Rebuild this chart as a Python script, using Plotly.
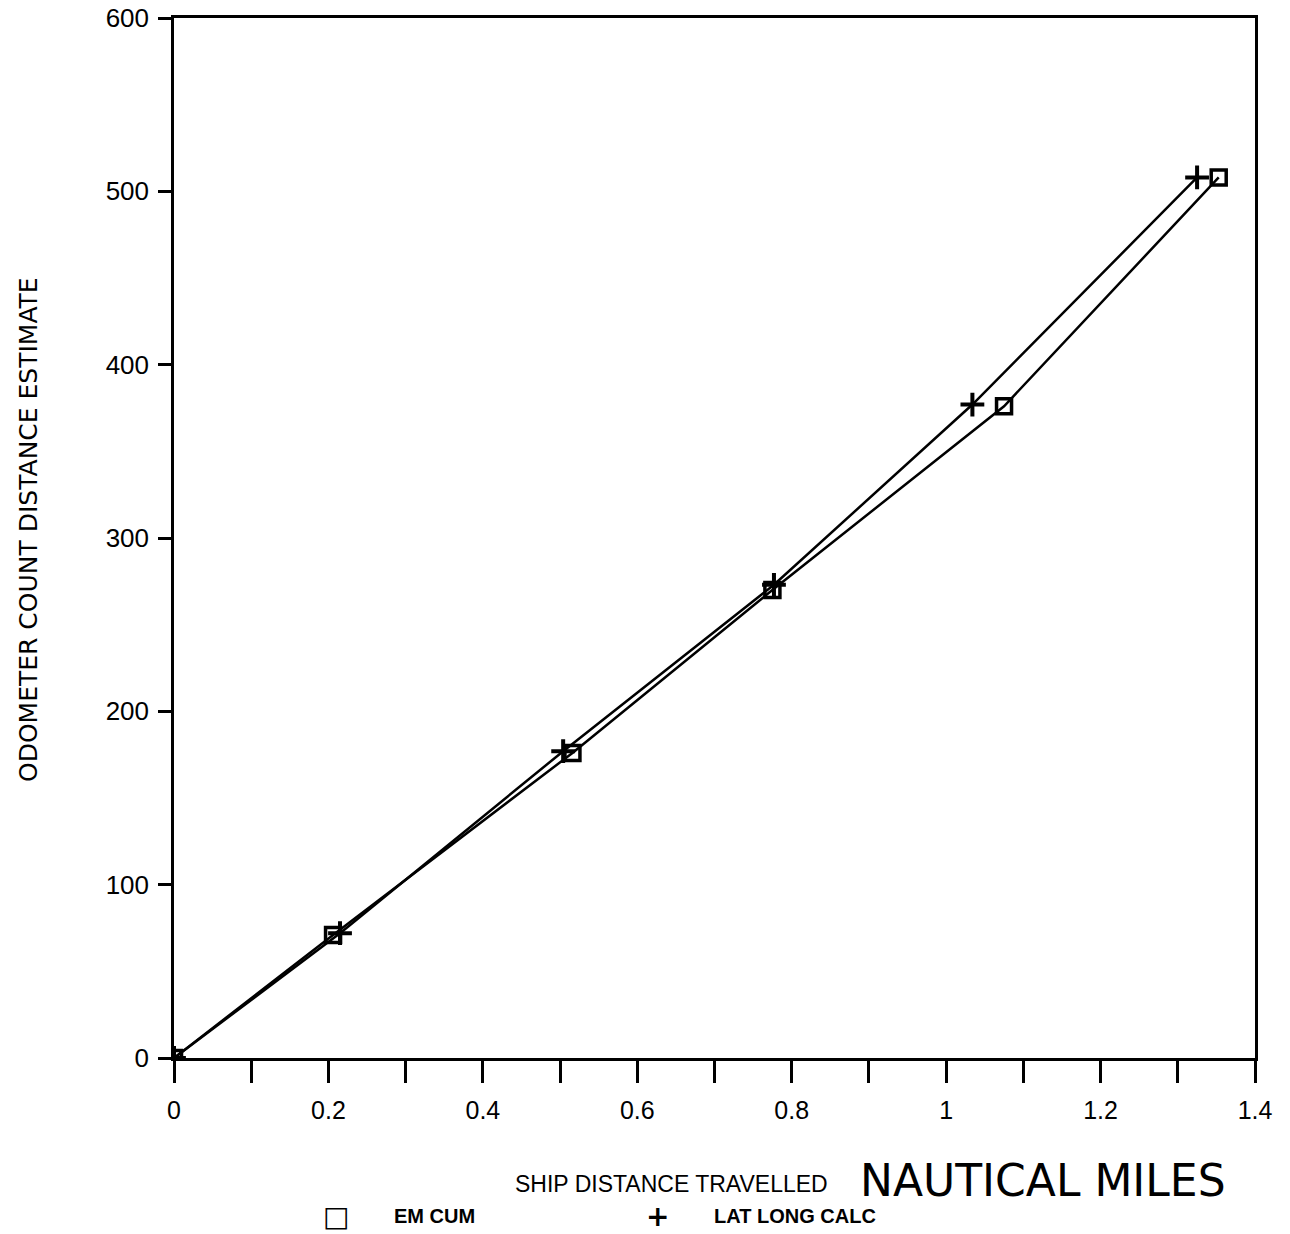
import plotly.graph_objects as go

# Data
em_x = [0.0, 0.206, 0.516, 0.775, 1.075, 1.353]
em_y = [0, 71, 176, 270, 376, 508]
ll_x = [0.0, 0.215, 0.504, 0.777, 1.034, 1.325]
ll_y = [0, 72, 177, 273, 377, 508]

x_ticks = [0, 0.2, 0.4, 0.6, 0.8, 1, 1.2, 1.4]
x_tick_labels = ["0", "0.2", "0.4", "0.6", "0.8", "1", "1.2", "1.4"]
y_ticks = [0, 100, 200, 300, 400, 500, 600]

W, H = 1290, 1234
L, R, T, B = 174, 35, 18, 176
PW, PH = W - L - R, H - T - B

def px_x(p):
    return (p - L) / PW

def px_y(p):
    return (H - B - p) / PH

FONT = "Liberation Sans, Arial"

fig = go.Figure()
fig.add_trace(go.Scatter(
    x=em_x, y=em_y, mode="lines+markers", name="EM CUM",
    line=dict(color="black", width=2.5),
    marker=dict(symbol="square-open", size=15, color="black", line=dict(width=3.5)),
))
fig.add_trace(go.Scatter(
    x=ll_x, y=ll_y, mode="lines+markers", name="LAT LONG CALC",
    line=dict(color="black", width=2.5),
    marker=dict(symbol="cross-thin", size=17, color="black", line=dict(width=4, color="black")),
))

fig.update_xaxes(
    range=[0, 1.4], tickvals=x_ticks, ticktext=x_tick_labels, automargin=False,
    showgrid=False, zeroline=False, showline=True, linecolor="black", linewidth=2.5,
    mirror=True, ticks="outside", ticklen=22, tickwidth=2.5, tickcolor="black",
    ticklabelstandoff=6,
    minor=dict(dtick=0.1, ticks="outside", ticklen=22, tickwidth=2.5, tickcolor="black", showgrid=False),
    tickfont=dict(family=FONT, size=25, color="black"),
)
fig.update_yaxes(
    range=[0, 600], tickvals=y_ticks, automargin=False,
    showgrid=False, zeroline=False, showline=True, linecolor="black", linewidth=2.5,
    mirror=True, ticks="outside", ticklen=13, tickwidth=2.5, tickcolor="black",
    ticklabelstandoff=4,
    tickfont=dict(family=FONT, size=26, color="black"),
)

# y axis title
fig.add_annotation(
    text="ODOMETER COUNT DISTANCE ESTIMATE", xref="paper", yref="paper",
    x=px_x(28), y=px_y(530), xanchor="center", yanchor="middle", textangle=-90,
    showarrow=False, font=dict(family="DejaVu Sans, Arial", size=25, color="black"),
)
# x axis title
fig.add_annotation(
    text="SHIP DISTANCE TRAVELLED", xref="paper", yref="paper",
    x=px_x(671), y=px_y(1184), xanchor="center", yanchor="middle", showarrow=False,
    font=dict(family=FONT, size=23, color="black"),
)
fig.add_annotation(
    text="NAUTICAL MILES", xref="paper", yref="paper",
    x=px_x(1043), y=px_y(1180), xanchor="center", yanchor="middle", showarrow=False,
    font=dict(family="DejaVu Sans, Arial", size=44, color="black"),
)
# legend
legend_items = [("□", 336, "EM CUM", 392), ("+", 657, "LAT LONG CALC", 712)]
for sym, sx, label, lx in legend_items:
    fig.add_annotation(
        text="<b>" + sym + "</b>", xref="paper", yref="paper",
        x=px_x(sx), y=px_y(1216), xanchor="center", yanchor="middle", showarrow=False,
        font=dict(family="DejaVu Sans, Arial", size=28, color="black"),
    )
    fig.add_annotation(
        text="<b>" + label + "</b>", xref="paper", yref="paper",
        x=px_x(lx), y=px_y(1216), xanchor="left", yanchor="middle", showarrow=False,
        font=dict(family=FONT, size=20, color="black"),
    )

fig.update_layout(
    width=W, height=H,
    margin=dict(l=L, r=R, t=T, b=B, autoexpand=False),
    paper_bgcolor="white", plot_bgcolor="white",
    showlegend=False,
)

fig.write_html("out.html", config={"displayModeBar": False},
               post_script="document.body.style.margin='0';")
